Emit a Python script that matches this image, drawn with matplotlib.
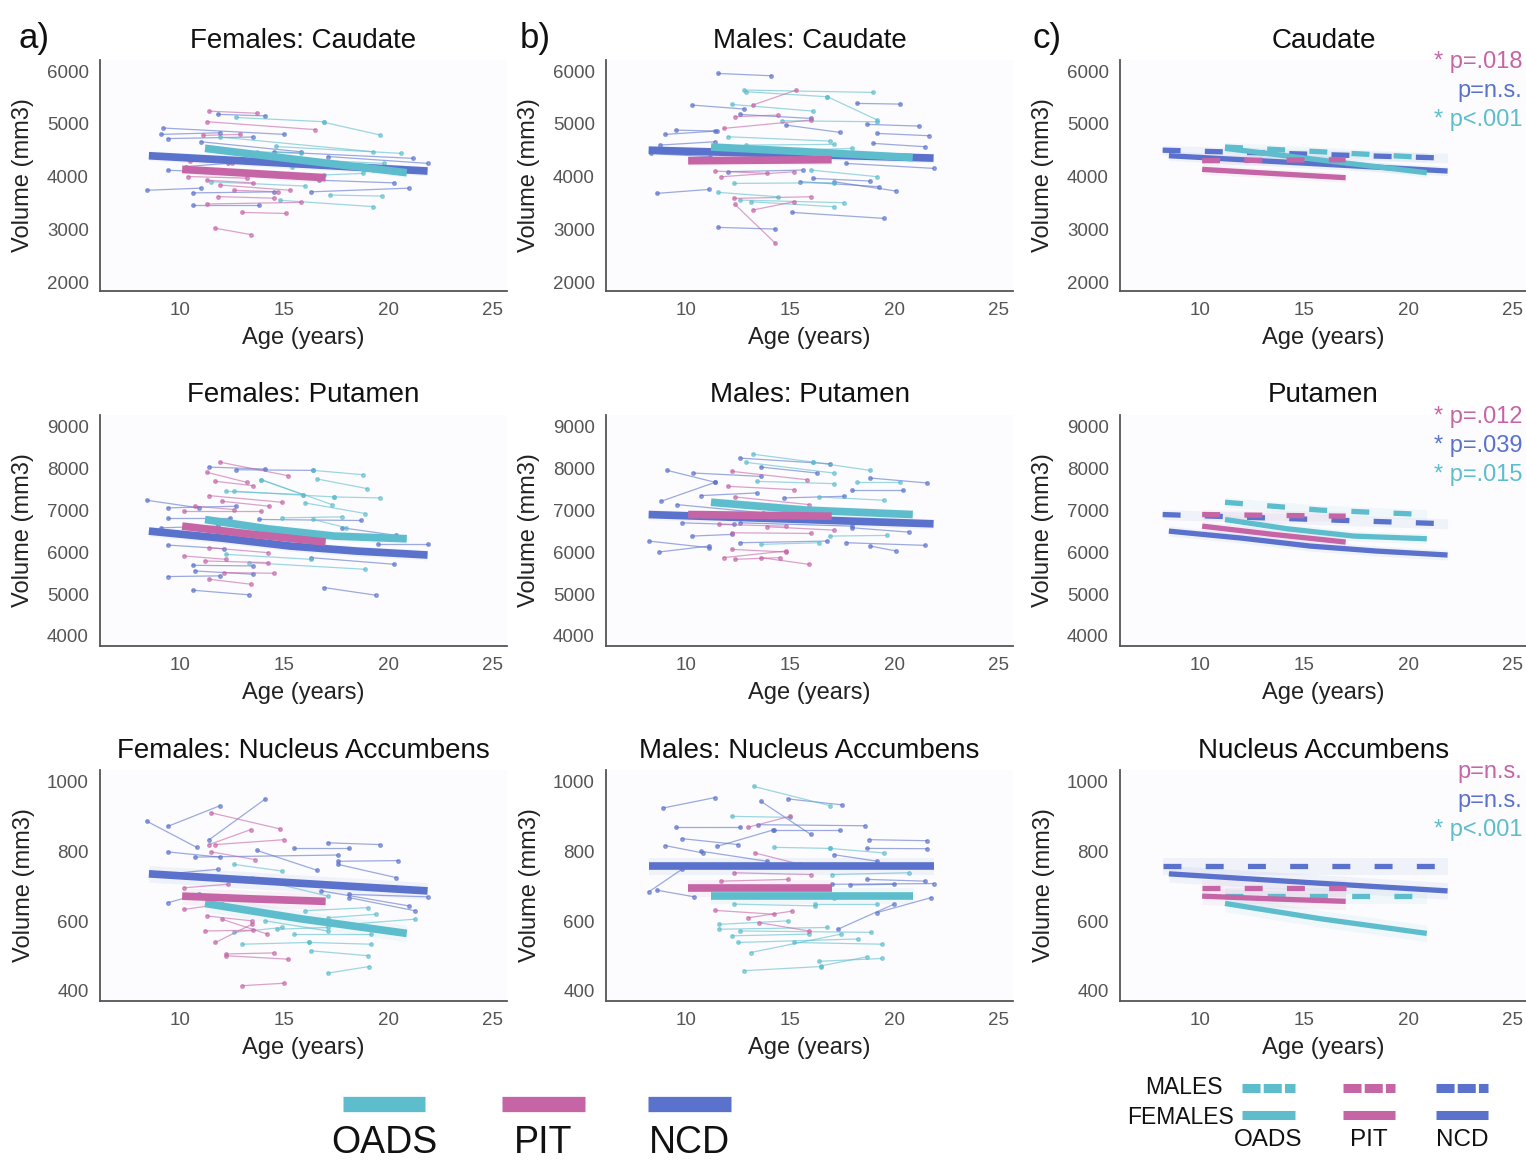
import numpy as np
import matplotlib
matplotlib.use("Agg")
import matplotlib.pyplot as plt
from matplotlib.lines import Line2D

plt.rcParams['font.family'] = ['Liberation Sans', 'DejaVu Sans']

# colours per group
col = {"OADS": "#5dbdcc", "PIT": "#c565a6", "NCD": "#5a72cb"}
groups = ["NCD", "OADS", "PIT"]

# ---- individual subjects: (age1, age2, vol1, vol2) ----
fc_ncd = [(11.8, 14.1, 5180, 5150), (9.2, 15.0, 4920, 4800), (9.1, 11.9, 4800, 4830), (9.4, 13.5, 4720, 4750),
          (17.1, 21.9, 4380, 4250), (14.5, 21.2, 4470, 4345), (9.4, 12.6, 4120, 4070), (8.4, 11.0, 3740, 3780),
          (10.6, 14.5, 3690, 3710), (10.6, 13.8, 3460, 3460), (16.7, 20.3, 3930, 3880), (16.3, 21.0, 3710, 3780),
          (11.0, 15.8, 4660, 4470), (10.3, 12.3, 4190, 4250)]
fc_oads = [(12.7, 16.9, 5120, 5040), (16.9, 19.6, 5030, 4790), (11.9, 19.3, 4750, 4470), (14.6, 20.6, 4570, 4440),
           (14.8, 19.3, 3550, 3430), (17.2, 19.7, 3650, 3630), (15.4, 19.3, 4190, 4120), (13.7, 15.8, 4470, 4440),
           (16.9, 18.8, 4030, 4060), (15.2, 19.8, 4330, 4250), (11.5, 16.0, 3900, 3820)]
fc_pit = [(11.4, 13.7, 5240, 5200), (11.3, 16.5, 5040, 4890), (10.4, 13.2, 4000, 3970), (11.3, 13.5, 3930, 3880),
          (11.9, 15.3, 3840, 3740), (12.6, 14.7, 3740, 3710), (11.8, 14.5, 3620, 3590), (11.3, 15.8, 3480, 3510),
          (13.0, 15.1, 3320, 3300), (11.7, 13.4, 3020, 2900), (11.1, 12.9, 4780, 4800), (10.5, 12.5, 4300, 4250)]

mc_ncd = [(11.55, 14.1, 5955, 5911), (18.2, 20.3, 5387, 5374), (10.3, 12.8, 5355, 5280), (12.6, 16.0, 5178, 5102),
          (18.7, 21.2, 4989, 4957), (9.5, 11.5, 4881, 4862), (9.0, 11.4, 4799, 4862), (14.8, 17.4, 4976, 4837),
          (19.2, 21.7, 4818, 4774), (8.75, 11.4, 4597, 4660), (19.0, 21.5, 4629, 4565), (8.3, 11.15, 4439, 4376),
          (17.7, 21.9, 4249, 4155), (12.0, 15.6, 4092, 4123), (16.1, 18.85, 3965, 3915), (15.5, 19.3, 3902, 3807),
          (17.1, 20.1, 3902, 3725), (8.6, 11.1, 3681, 3756), (15.1, 19.5, 3320, 3207), (11.55, 14.3, 3036, 3004)]
mc_oads = [(12.8, 19.0, 5640, 5595), (12.9, 16.8, 5608, 5513), (16.8, 19.2, 5513, 5071), (12.2, 16.1, 5368, 5241),
           (14.6, 19.2, 5058, 5039), (12.0, 16.9, 4755, 4673), (12.9, 17.1, 4597, 4610), (15.5, 18.0, 4502, 4534),
           (16.0, 19.2, 4123, 3997), (12.3, 17.1, 3870, 3883), (11.55, 14.4, 3700, 3617), (12.6, 17.6, 3554, 3504),
           (13.1, 17.1, 3523, 3428)]
mc_pit = [(13.2, 15.3, 5355, 5640), (12.35, 14.4, 5134, 5166), (11.8, 16.0, 4913, 5071), (11.4, 13.9, 4104, 4060),
          (11.7, 15.2, 3997, 4092), (12.3, 16.0, 3586, 3617), (12.35, 14.3, 3472, 2733), (13.2, 15.2, 3365, 3523)]

fp_ncd = [(11.4, 14.1, 8040, 7992), (12.7, 16.4, 7976, 7960), (8.4, 10.9, 7246, 7064), (9.4, 12.7, 7064, 7103),
          (9.4, 12.4, 6825, 6825), (13.8, 18.7, 6786, 6762), (9.1, 11.8, 6587, 6627), (12.6, 17.8, 6389, 6405),
          (17.8, 20.4, 6587, 6405), (19.5, 21.9, 6191, 6191), (9.4, 12.1, 6175, 6087), (16.3, 20.3, 5873, 5714),
          (10.6, 13.5, 5690, 5675), (10.7, 13.5, 5556, 5476), (9.4, 11.9, 5421, 5437), (10.6, 13.3, 5095, 4984),
          (16.9, 19.4, 5159, 4976)]
fp_oads = [(16.4, 18.8, 7960, 7857), (13.9, 15.9, 7738, 7381), (13.9, 17.3, 7738, 7143), (16.6, 19.0, 7754, 7524),
           (12.2, 15.9, 7460, 7381), (12.6, 17.4, 7460, 7325), (17.4, 19.6, 7325, 7302), (16.0, 18.9, 7183, 6929),
           (14.9, 17.8, 6825, 6849), (16.4, 18.0, 6786, 6587), (12.2, 16.3, 5952, 5833), (13.3, 18.9, 5754, 5595)]
fp_pit = [(11.9, 15.2, 8159, 7833), (11.3, 13.2, 7913, 7675), (11.7, 13.5, 7699, 7595), (11.4, 14.9, 7357, 7198),
          (12.0, 14.3, 7222, 7103), (10.7, 12.6, 7103, 7024), (10.2, 13.9, 6984, 6984), (11.4, 14.25, 6111, 5992),
          (10.2, 12.2, 5913, 5833), (11.2, 14.25, 5794, 5754), (12.1, 14.5, 5516, 5500), (11.4, 13.4, 5357, 5238)]

mp_ncd = [(12.6, 16.9, 8254, 8119), (9.1, 11.4, 7960, 7675), (8.8, 11.4, 7222, 7675), (10.35, 13.6, 7897, 7817),
          (13.6, 16.3, 8040, 7897), (18.85, 21.6, 7778, 7659), (18.0, 20.45, 7484, 7484), (10.7, 13.4, 7357, 7421),
          (14.7, 17.6, 7302, 7341), (9.55, 13.7, 7143, 6944), (9.8, 12.3, 6706, 6667), (12.6, 18.0, 6706, 6627),
          (18.0, 20.7, 6587, 6484), (10.3, 12.2, 6389, 6429), (8.2, 11.1, 6270, 6111), (8.7, 11.1, 6008, 6151),
          (12.6, 16.8, 6230, 6270), (17.7, 21.5, 6230, 6167), (18.85, 20.1, 6151, 6032)]
mp_oads = [(13.2, 16.1, 8349, 8159), (16.1, 18.85, 8159, 7960), (12.9, 17.1, 8151, 7897), (18.2, 20.3, 7675, 7675),
           (13.4, 17.1, 7698, 7643), (16.4, 19.5, 7325, 7246), (16.9, 19.65, 6389, 6405), (13.6, 16.4, 6191, 6230)]
mp_pit = [(12.2, 15.8, 7937, 7738), (12.0, 15.2, 7579, 7500), (12.35, 15.9, 7325, 7143), (11.6, 14.8, 6667, 6627),
          (13.9, 17.1, 6611, 6532), (12.2, 16.0, 6468, 6452), (12.2, 14.8, 6071, 6008), (11.8, 14.8, 5873, 6032),
          (12.35, 14.5, 5833, 5873), (13.6, 15.9, 5873, 5714)]

fn_ncd = [(8.4, 10.8, 887, 812), (9.4, 11.9, 872, 931), (11.4, 14.1, 834, 951), (9.4, 11.9, 799, 784),
          (13.7, 16.6, 803, 746), (15.5, 18.1, 811, 811), (17.1, 19.6, 825, 820), (17.6, 20.5, 772, 774),
          (17.6, 20.4, 763, 725), (10.7, 17.6, 784, 790), (9.1, 11.8, 734, 749), (9.4, 10.9, 653, 677),
          (16.8, 21.0, 687, 644), (18.1, 21.9, 677, 670), (18.1, 21.3, 668, 630)]
fn_pit = [(11.5, 14.8, 911, 865), (11.4, 13.4, 820, 863), (11.7, 15.0, 820, 834), (11.5, 13.6, 799, 777),
          (10.2, 12.3, 696, 706), (10.2, 12.0, 634, 649), (11.3, 13.45, 615, 601), (12.0, 14.2, 606, 563),
          (11.2, 13.5, 572, 574), (11.7, 13.45, 539, 591), (12.2, 14.5, 506, 509), (12.2, 15.2, 501, 491),
          (13.0, 15.0, 415, 422)]
fn_oads = [(12.6, 14.9, 763, 744), (13.45, 17.1, 725, 672), (12.6, 14.9, 568, 582), (13.0, 16.2, 534, 539),
           (16.2, 19.2, 539, 534), (14.65, 17.1, 577, 582), (17.1, 19.4, 610, 620), (16.0, 19.05, 630, 639),
           (15.5, 19.2, 563, 563), (18.1, 21.3, 591, 606), (16.3, 19.05, 515, 501), (17.1, 19.1, 451, 470),
           (14.1, 17.1, 601, 572)]

mn_ncd = [(14.9, 17.5, 951, 934), (8.9, 11.4, 925, 955), (13.6, 16.0, 944, 849), (9.5, 12.6, 870, 870),
          (13.45, 18.6, 877, 874), (14.2, 17.4, 863, 863), (9.8, 12.5, 837, 820), (11.5, 14.25, 815, 863),
          (9.0, 10.8, 817, 796), (18.8, 21.6, 834, 831), (18.7, 21.6, 809, 808), (10.7, 13.9, 801, 772),
          (17.1, 19.2, 791, 772), (8.2, 9.8, 684, 749), (8.6, 10.4, 689, 670), (17.9, 20.0, 704, 706),
          (18.7, 21.5, 720, 715), (17.0, 21.9, 706, 708), (19.2, 21.8, 625, 668), (17.3, 20.0, 577, 649)]
mn_oads = [(13.25, 16.9, 987, 932), (12.2, 15.0, 901, 898), (14.25, 16.9, 812, 809), (16.9, 19.5, 809, 796),
           (17.0, 20.7, 734, 739), (12.0, 17.1, 672, 668), (12.3, 16.2, 649, 644), (16.2, 19.2, 649, 649),
           (11.6, 14.9, 591, 601), (11.6, 16.8, 577, 582), (12.2, 15.9, 558, 563), (12.6, 18.9, 572, 568),
           (12.5, 18.25, 539, 549), (15.2, 19.4, 539, 534), (13.1, 17.45, 510, 563), (12.8, 16.5, 458, 470),
           (16.4, 19.4, 485, 493), (16.5, 18.7, 472, 498)]
mn_pit = [(13.0, 15.0, 870, 901), (13.3, 15.5, 796, 763), (12.3, 16.0, 739, 734), (11.7, 14.9, 715, 720),
          (11.4, 14.25, 631, 620), (13.0, 15.1, 610, 629), (13.5, 15.9, 596, 572)]

# ---- group fits: ages, volumes ----
fit_caud_f = {"NCD": ([8.5, 15.2, 21.9], [4395, 4250, 4105]),
              "OADS": ([11.2, 15.8, 20.9], [4535, 4313, 4073]),
              "PIT": ([10.1, 13.5, 17.0], [4136, 4058, 3978])}
fit_caud_m = {"NCD": ([8.2, 14.7, 21.9], [4500, 4430, 4350]),
              "OADS": ([11.2, 15.8, 20.9], [4560, 4470, 4360]),
              "PIT": ([10.1, 13.5, 17.0], [4300, 4310, 4320])}
fit_put_f = {"NCD": ([8.5, 12.0, 15.3, 18.5, 21.9], [6508, 6340, 6150, 6030, 5936]),
             "OADS": ([11.2, 14.2, 17.4, 20.9], [6785, 6563, 6389, 6325]),
             "PIT": ([10.1, 13.5, 17.0], [6627, 6430, 6246])}
fit_put_m = {"NCD": ([8.2, 14.7, 21.9], [6904, 6800, 6682]),
             "OADS": ([11.2, 15.8, 20.9], [7198, 7010, 6904]),
             "PIT": ([10.1, 13.5, 17.0], [6904, 6885, 6865])}
fit_nacc_f = {"NCD": ([8.5, 15.2, 21.9], [736, 711, 687]),
              "OADS": ([11.2, 15.8, 20.9], [651, 607, 565]),
              "PIT": ([10.1, 13.5, 17.0], [672, 664, 657])}
fit_nacc_m = {"NCD": ([8.2, 14.7, 21.9], [758, 758, 758]),
              "OADS": ([11.2, 15.8, 20.9], [672, 672, 672]),
              "PIT": ([10.1, 13.5, 17.0], [694, 694, 694])}

regions = ["Caudate", "Putamen", "Nucleus Accumbens"]
ylims = [(1830, 6210), (3760, 9285), (371, 1034)]
yticks = [[2000, 3000, 4000, 5000, 6000], [4000, 5000, 6000, 7000, 8000, 9000], [400, 600, 800, 1000]]
bands = [90, 120, 24]
pvals = [[("* p=.018", "PIT"), ("p=n.s.", "NCD"), ("* p<.001", "OADS")],
         [("* p=.012", "PIT"), ("* p=.039", "NCD"), ("* p=.015", "OADS")],
         [("p=n.s.", "PIT"), ("p=n.s.", "NCD"), ("* p<.001", "OADS")]]

subj_f = [{"NCD": fc_ncd, "OADS": fc_oads, "PIT": fc_pit},
          {"NCD": fp_ncd, "OADS": fp_oads, "PIT": fp_pit},
          {"NCD": fn_ncd, "OADS": fn_oads, "PIT": fn_pit}]
subj_m = [{"NCD": mc_ncd, "OADS": mc_oads, "PIT": mc_pit},
          {"NCD": mp_ncd, "OADS": mp_oads, "PIT": mp_pit},
          {"NCD": mn_ncd, "OADS": mn_oads, "PIT": mn_pit}]
fits_f = [fit_caud_f, fit_put_f, fit_nacc_f]
fits_m = [fit_caud_m, fit_put_m, fit_nacc_m]

W, H = 1526, 1163
fig = plt.figure(figsize=(W / 100, H / 100), dpi=100)


def fx(x):
    return x / W


def fy(y):
    return 1 - y / H


col_left = [100, 606, 1120]
row_top = [60, 415, 770]
ax_w, ax_h = 407, 231


def style(ax, r, title):
    ax.set_facecolor("#fcfcfe")
    ax.set_xlim(6.15, 25.72)
    ax.set_ylim(*ylims[r])
    ax.set_xticks([10, 15, 20, 25])
    ax.set_yticks(yticks[r])
    for s in ["top", "right"]:
        ax.spines[s].set_visible(False)
    for s in ["left", "bottom"]:
        ax.spines[s].set_color("#555555")
        ax.spines[s].set_linewidth(1.3)
    ax.tick_params(length=0, labelsize=13.5, colors="#555555", pad=8)
    ax.set_xlabel("Age (years)", fontsize=17, color="#222222", labelpad=6)
    ax.set_ylabel("Volume (mm3)", fontsize=17, color="#222222", labelpad=9)
    ax.set_title(title, fontsize=20, color="#111111", pad=9)


def draw_fit(ax, fits, g, lw, dashed=False):
    a, v = fits[g]
    ax.fill_between(a, np.array(v) - band, np.array(v) + band, color=col[g], alpha=0.07, lw=0, zorder=2)
    ln, = ax.plot(a, v, color=col[g], lw=lw, solid_capstyle="butt", zorder=4)
    if dashed:
        ln.set_dashes((3.4, 4.6))


for r in range(3):
    band = bands[r]
    axes = []
    for c in range(3):
        ax = fig.add_axes([fx(col_left[c]), fy(row_top[r] + ax_h), fx(ax_w), ax_h / H])
        axes.append(ax)
    # individual trajectories
    for c, subj in [(0, subj_f[r]), (1, subj_m[r])]:
        ax = axes[c]
        for g in groups:
            for a1, a2, v1, v2 in subj[g]:
                ax.plot([a1, a2], [v1, v2], color=col[g], lw=0.9, alpha=0.6,
                        marker="o", ms=2.6, zorder=1)
    for g in groups:
        draw_fit(axes[0], fits_f[r], g, 5.5)
        draw_fit(axes[1], fits_m[r], g, 5.5)
        draw_fit(axes[2], fits_f[r], g, 3.8)
        draw_fit(axes[2], fits_m[r], g, 3.8, dashed=True)
    style(axes[0], r, "Females: " + regions[r])
    style(axes[1], r, "Males: " + regions[r])
    style(axes[2], r, regions[r])
    # p-values
    for k, (txt, g) in enumerate(pvals[r]):
        fig.text(fx(1522), fy(row_top[r] + 2 + 29 * k), txt, color=col[g], fontsize=17,
                 ha="right", va="center")

# panel letters
for x, t in [(18, "a)"), (520, "b)"), (1033, "c)")]:
    fig.text(fx(x), fy(48), t, fontsize=25, color="#111111")

# bottom-left legend
for x0, x1, g in [(343, 425, "OADS"), (502, 585, "PIT"), (648, 731, "NCD")]:
    fig.add_artist(Line2D([fx(x0), fx(x1)], [fy(1104), fy(1104)], color=col[g], lw=11,
                          solid_capstyle="butt", transform=fig.transFigure))
    fig.text(fx((x0 + x1) / 2), fy(1143), g, fontsize=27, ha="center", va="center", color="#111111")

# bottom-right legend
fig.text(fx(1223), fy(1088), "MALES", fontsize=16.5, ha="right", va="center", color="#111111")
fig.text(fx(1234), fy(1117), "FEMALES", fontsize=16.5, ha="right", va="center", color="#111111")
for x0, x1, g in [(1242, 1295, "OADS"), (1343, 1395, "PIT"), (1436, 1488, "NCD")]:
    ld = Line2D([fx(x0), fx(x1)], [fy(1088), fy(1088)], color=col[g], lw=6.5,
                solid_capstyle="butt", transform=fig.transFigure)
    ld.set_dashes((2.0, 0.35))
    fig.add_artist(ld)
    fig.add_artist(Line2D([fx(x0), fx(x1)], [fy(1115), fy(1115)], color=col[g], lw=6.5,
                          solid_capstyle="butt", transform=fig.transFigure))
    fig.text(fx((x0 + x1) / 2), fy(1140), g, fontsize=17.5, ha="center", va="center", color="#111111")

fig.savefig("out.png", dpi=100, facecolor="white")
